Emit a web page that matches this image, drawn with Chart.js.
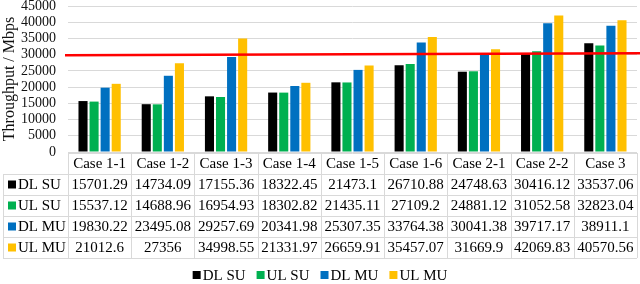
<!DOCTYPE html>
<html>
<head>
<meta charset="UTF-8">
<title>Throughput</title>
<script src="https://cdn.jsdelivr.net/npm/chart.js"></script>
<style>
  body { margin: 0; background: #fff; }
  #wrap { width: 640px; height: 284px; }
</style>
</head>
<body>
<div id="wrap"><canvas id="c" width="640" height="284"></canvas></div>
<script>
const cases = ["Case 1-1", "Case 1-2", "Case 1-3", "Case 1-4", "Case 1-5", "Case 1-6", "Case 2-1", "Case 2-2", "Case 3"];
const dlSu = [15701.29, 14734.09, 17155.36, 18322.45, 21473.1, 26710.88, 24748.63, 30416.12, 33537.06];
const ulSu = [15537.12, 14688.96, 16954.93, 18302.82, 21435.11, 27109.2, 24881.12, 31052.58, 32823.04];
const dlMu = [19830.22, 23495.08, 29257.69, 20341.98, 25307.35, 33764.38, 30041.38, 39717.17, 38911.1];
const ulMu = [21012.6, 27356, 34998.55, 21331.97, 26659.91, 35457.07, 31669.9, 42069.83, 40570.56];
const seriesNames = ["DL SU", "UL SU", "DL MU", "UL MU"];
const seriesColors = ["#000000", "#00b050", "#0070c0", "#ffc000"];
// red reference line, slightly tilted in the original
const refStart = 29800;
const refEnd = 30400;

const serif = "'Liberation Serif', 'DejaVu Serif', serif";
const allData = [dlSu, ulSu, dlMu, ulMu];

// data table under the bars + legend at the bottom
const tablePlugin = {
  id: "table",
  afterDraw(chart) {
    const ctx = chart.ctx;
    const area = chart.chartArea;
    const xs = chart.scales.x;
    const colW = area.width / cases.length;
    const top = area.bottom + 1;
    const rowH = 21;
    const labelLeft = 3;
    ctx.save();
    ctx.strokeStyle = "#d9d9d9";
    ctx.lineWidth = 1;
    ctx.beginPath();
    ctx.moveTo(area.left, top + 0.5); ctx.lineTo(area.right, top + 0.5);
    for (let r = 1; r <= 5; r++) {
      const y = Math.round(top + r * rowH) + 0.5;
      ctx.moveTo(labelLeft, y); ctx.lineTo(area.right, y);
    }
    for (let i = 0; i <= cases.length; i++) {
      const x = Math.round(area.left + i * colW) + 0.5;
      ctx.moveTo(x, top); ctx.lineTo(x, top + 5 * rowH);
    }
    ctx.moveTo(labelLeft + 0.5, top + rowH); ctx.lineTo(labelLeft + 0.5, top + 5 * rowH);
    ctx.stroke();

    ctx.fillStyle = "#000";
    ctx.font = "15px " + serif;
    ctx.textBaseline = "middle";
    ctx.textAlign = "center";
    cases.forEach((c, i) => {
      ctx.fillText(c, xs.getPixelForValue(i), top + rowH / 2 + 1);
    });
    allData.forEach((arr, r) => {
      const y = top + (r + 1.5) * rowH + 1;
      arr.forEach((v, i) => {
        ctx.fillText(String(v), xs.getPixelForValue(i), y);
      });
    });
    ctx.textAlign = "left";
    seriesNames.forEach((n, r) => {
      const y = top + (r + 1.5) * rowH;
      ctx.fillStyle = seriesColors[r];
      ctx.fillRect(8, y - 4, 8, 8);
      ctx.fillStyle = "#000";
      ctx.fillText(n, 18, y + 1);
    });

    // legend
    const ly = 275;
    const gap = 11;
    const widths = seriesNames.map(n => 10 + ctx.measureText(n).width);
    const total = widths.reduce((a, b) => a + b, 0) + gap * (widths.length - 1);
    let lx = 320 - total / 2;
    seriesNames.forEach((n, i) => {
      ctx.fillStyle = seriesColors[i];
      ctx.fillRect(lx, ly - 4, 8, 8);
      ctx.fillStyle = "#000";
      ctx.fillText(n, lx + 10, ly + 1);
      lx += widths[i] + gap;
    });
    ctx.restore();
  }
};

const refLinePlugin = {
  id: "refLine",
  afterDatasetsDraw(chart) {
    const ctx = chart.ctx;
    const ys = chart.scales.y;
    const area = chart.chartArea;
    ctx.save();
    ctx.strokeStyle = "#ff0000";
    ctx.lineWidth = 2.5;
    ctx.beginPath();
    ctx.moveTo(area.left - 3, ys.getPixelForValue(refStart));
    ctx.lineTo(chart.width, ys.getPixelForValue(refEnd));
    ctx.stroke();
    ctx.restore();
  }
};

new Chart(document.getElementById("c"), {
  type: "bar",
  data: {
    labels: cases,
    datasets: allData.map((d, i) => ({
      label: seriesNames[i],
      data: d,
      backgroundColor: seriesColors[i],
      borderWidth: 0,
      barPercentage: 0.82,
      categoryPercentage: 0.7
    }))
  },
  options: {
    responsive: false,
    animation: false,
    layout: { padding: { top: 0, right: 3, left: 0, bottom: 26 } },
    plugins: {
      tooltip: { enabled: false },
      legend: { display: false }
    },
    scales: {
      x: {
        ticks: { display: false },
        grid: { display: false },
        border: { display: false },
        afterFit(s) { s.height = 106; }
      },
      y: {
        min: 0,
        max: 45000,
        ticks: {
          stepSize: 5000,
          autoSkip: false,
          color: "#111",
          padding: 12,
          font: { family: serif, size: 14, lineHeight: 1 },
          callback: v => String(v)
        },
        grid: { color: "#d9d9d9", drawTicks: false },
        border: { display: false },
        title: {
          display: true,
          text: "Throughput / Mbps",
          color: "#111",
          padding: 0,
          font: { family: serif, size: 16 }
        },
        afterFit(s) {
          s.width = 68;
          s.paddingTop = 6;
        }
      }
    }
  },
  plugins: [tablePlugin, refLinePlugin]
});
</script>
</body>
</html>
